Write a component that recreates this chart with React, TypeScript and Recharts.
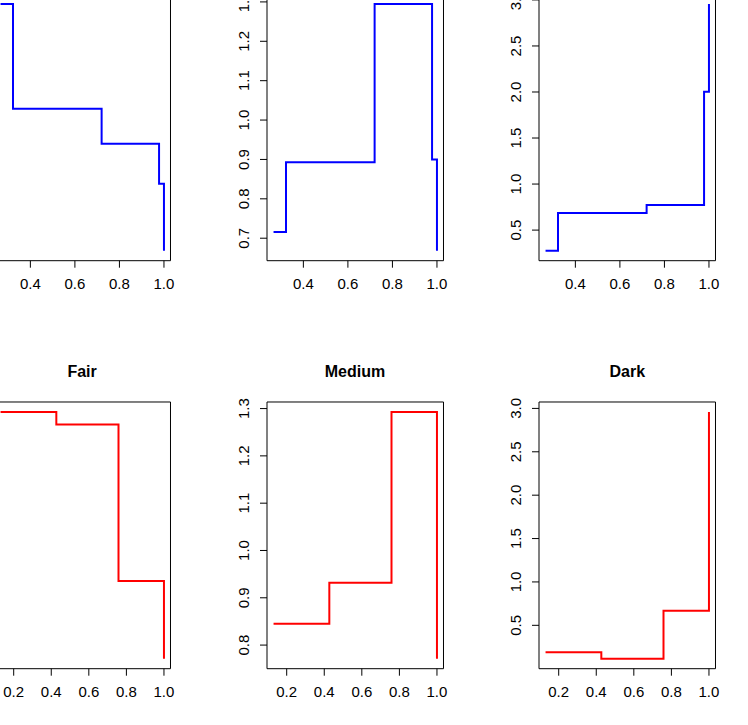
import { LineChart, Line, XAxis, YAxis, ReferenceArea } from "recharts"

// step positions (x) shared by each row
const topX = [0.266, 0.322, 0.72, 0.978, 1.0]
const bottomX = [0.13, 0.427, 0.758, 1.0]

// top row (blue)
const fairTop = [1.3, 1.045, 0.96, 0.863, 0.7]
const mediumTop = [0.716, 0.893, 1.295, 0.9, 0.668]
const darkTop = [0.275, 0.685, 0.772, 2.003, 2.957]

// bottom row (red)
const fairBottom = [1.25, 1.227, 0.942, 0.8]
const mediumBottom = [0.845, 0.932, 1.293, 0.771]
const darkBottom = [0.19, 0.114, 0.669, 2.96]

const topXTicks = [0.4, 0.6, 0.8, 1.0]
const bottomXTicks = [0.2, 0.4, 0.6, 0.8, 1.0]
const fairTopYTicks = [0.7, 0.8, 0.9, 1.0, 1.1, 1.2, 1.3]
const mediumTopYTicks = [0.7, 0.8, 0.9, 1.0, 1.1, 1.2, 1.3]
const darkYTicks = [0.5, 1.0, 1.5, 2.0, 2.5, 3.0]
const fairBottomYTicks = [0.8, 0.9, 1.0, 1.1, 1.2]
const mediumBottomYTicks = [0.8, 0.9, 1.0, 1.1, 1.2, 1.3]

const titles = ["Fair", "Medium", "Dark"]

const FONT = "'Liberation Sans', Arial, Helvetica, sans-serif"
const colLeft = [-6.2, 266.7, 539]
const rowTop = [-5.7, 402.3]
const BOX_W = 176.5
const BOX_H = 266.7
const ML = 50
const MT = 10
const XH = 40

// R pads the data range by 4% on each side
function pad(v: number[]): [number, number] {
  const lo = Math.min(...v)
  const hi = Math.max(...v)
  const d = (hi - lo) * 0.04
  return [lo - d, hi + d]
}

const XTick = (props: any) => {
  const { x, y, payload } = props
  return (
    <text x={x} y={y + 21} textAnchor="middle" fontSize={15} fontFamily={FONT} fill="#000">
      {Number(payload.value).toFixed(1)}
    </text>
  )
}

const YTick = (props: any) => {
  const { x, y, payload } = props
  const tx = x - 11
  return (
    <text
      x={tx}
      y={y}
      transform={`rotate(-90, ${tx}, ${y})`}
      textAnchor="middle"
      fontSize={15}
      fontFamily={FONT}
      fill="#000"
    >
      {Number(payload.value).toFixed(1)}
    </text>
  )
}

function Panel({ xs, ys, xTicks, yTicks, color, left, top, title }: any) {
  const data = xs.map((x: number, i: number) => ({ x, y: ys[i] }))
  const xd = pad(xs)
  const yd = pad(ys)
  return (
    <div style={{ position: "absolute", left: left - ML, top: top - MT }}>
      <LineChart
        width={ML + BOX_W + 10}
        height={MT + BOX_H + XH}
        data={data}
        margin={{ top: MT, right: 10, bottom: 0, left: 0 }}
      >
        <XAxis
          dataKey="x"
          type="number"
          domain={xd}
          ticks={xTicks}
          allowDataOverflow
          axisLine={false}
          tickSize={7}
          tickMargin={0}
          tickLine={{ stroke: "#000" }}
          height={XH}
          tick={<XTick />}
        />
        <YAxis
          dataKey="y"
          type="number"
          domain={yd}
          ticks={yTicks}
          allowDataOverflow
          axisLine={false}
          tickSize={7}
          tickMargin={0}
          tickLine={{ stroke: "#000" }}
          width={ML}
          tick={<YTick />}
        />
        <Line
          dataKey="y"
          type="stepAfter"
          stroke={color}
          strokeWidth={2}
          strokeLinecap="butt"
          dot={false}
          activeDot={false}
          isAnimationActive={false}
        />
        <ReferenceArea
          x1={xd[0]}
          x2={xd[1]}
          y1={yd[0]}
          y2={yd[1]}
          fill="none"
          stroke="#000"
          strokeWidth={1}
          ifOverflow="visible"
        />
      </LineChart>
      {title && (
        <div
          style={{
            position: "absolute",
            left: ML + BOX_W / 2 - 100,
            top: MT - 38.5,
            width: 200,
            textAlign: "center",
            fontFamily: FONT,
            fontWeight: "bold",
            fontSize: 16,
            lineHeight: "16px",
            color: "#000",
          }}
        >
          {title}
        </div>
      )}
    </div>
  )
}

export default function App() {
  return (
    <div
      style={{
        position: "absolute",
        left: 0,
        top: 0,
        width: 748,
        height: 725,
        overflow: "hidden",
        background: "#fff",
      }}
    >
      <Panel xs={topX} ys={fairTop} xTicks={topXTicks} yTicks={fairTopYTicks} color="#0000ff" left={colLeft[0]} top={rowTop[0]} title={titles[0]} />
      <Panel xs={topX} ys={mediumTop} xTicks={topXTicks} yTicks={mediumTopYTicks} color="#0000ff" left={colLeft[1]} top={rowTop[0]} title={titles[1]} />
      <Panel xs={topX} ys={darkTop} xTicks={topXTicks} yTicks={darkYTicks} color="#0000ff" left={colLeft[2]} top={rowTop[0]} title={titles[2]} />
      <Panel xs={bottomX} ys={fairBottom} xTicks={bottomXTicks} yTicks={fairBottomYTicks} color="#ff0000" left={colLeft[0]} top={rowTop[1]} title={titles[0]} />
      <Panel xs={bottomX} ys={mediumBottom} xTicks={bottomXTicks} yTicks={mediumBottomYTicks} color="#ff0000" left={colLeft[1]} top={rowTop[1]} title={titles[1]} />
      <Panel xs={bottomX} ys={darkBottom} xTicks={bottomXTicks} yTicks={darkYTicks} color="#ff0000" left={colLeft[2]} top={rowTop[1]} title={titles[2]} />
    </div>
  )
}
